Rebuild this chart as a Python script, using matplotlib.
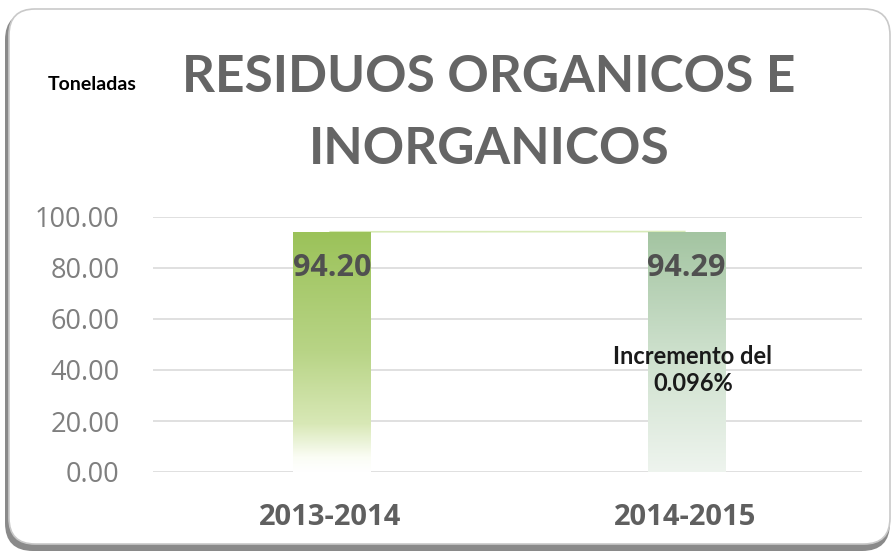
import numpy as np
import matplotlib
matplotlib.use("Agg")
import matplotlib.pyplot as plt
from matplotlib.patches import FancyBboxPatch
from matplotlib.colors import LinearSegmentedColormap

# ---- data ----
categories = ["2013-2014", "2014-2015"]
values = [94.20, 94.29]
value_labels = ["94.20", "94.29"]
yticks = [0, 20, 40, 60, 80, 100]
title_lines = ["RESIDUOS ORGANICOS E", "INORGANICOS"]
unit_label = "Toneladas"
note = "Incremento del\n0.096%"

W, H = 893, 553
fig = plt.figure(figsize=(W / 100, H / 100), dpi=100)
fig.patch.set_facecolor("white")

# background card drawn in pixel coordinates
bg = fig.add_axes([0, 0, 1, 1])
bg.set_xlim(0, W)
bg.set_ylim(H, 0)
bg.axis("off")
shadow = FancyBboxPatch((5, 12), 885, 539, boxstyle="round,pad=0,rounding_size=28",
                        facecolor="#8a8a8a", edgecolor="none", zorder=0)
bg.add_patch(shadow)
card = FancyBboxPatch((9, 9), 881, 535, boxstyle="round,pad=0,rounding_size=26",
                      facecolor="white", edgecolor="#c9c9c9", linewidth=1.2, zorder=1)
bg.add_patch(card)

# titles
fig.text(489 / W, 1 - 78 / H, title_lines[0], ha="center", va="center",
         fontsize=37, fontweight="bold", family="Lato", color="#656565")
fig.text(489 / W, 1 - 150 / H, title_lines[1], ha="center", va="center",
         fontsize=37, fontweight="bold", family="Lato", color="#656565")
fig.text(92 / W, 1 - 84 / H, unit_label, ha="center", va="center",
         fontsize=14, fontweight="bold", family="Lato", color="#000000")

# main axes
ax = fig.add_axes([153 / W, 1 - 472 / H, 709 / W, 255 / H])
ax.patch.set_alpha(0)
x = np.arange(len(categories))
ax.set_xlim(-0.5, len(categories) - 0.5)
ax.set_ylim(0, 100)
for s in ax.spines.values():
    s.set_visible(False)
ax.set_yticks(yticks)
ax.set_yticklabels([f"{v:.2f}" for v in yticks], family="Open Sans",
                   fontsize=19.5, color="#7f7f7f")
ax.set_xticks(x)
ax.set_xticklabels(categories, family="Open Sans", fontsize=21,
                   fontweight="bold", color="#5f5f5f")
ax.tick_params(axis="both", length=0)
ax.tick_params(axis="y", pad=24)
ax.tick_params(axis="x", pad=22)
ax.yaxis.grid(True, color="#dadada", linewidth=1.2)
ax.set_axisbelow(True)

# faint line joining the bar tops
ax.plot(x, values, color="#d8eab8", linewidth=1.2, zorder=1)

bars = ax.bar(x + 0.005, values, width=0.22, facecolor="none", edgecolor="none", zorder=2)

cmaps = [
    LinearSegmentedColormap.from_list("g1", [(0, "#ffffff"), (0.06, "#fbfdf5"),
                                             (0.2, "#d8e8b6"), (0.5, "#b8d486"),
                                             (1, "#9bc259")]),
    LinearSegmentedColormap.from_list("g2", [(0, "#eef4ee"), (0.5, "#cde0cc"),
                                             (1, "#a3c4a1")]),
]
grad = np.linspace(0, 1, 256).reshape(-1, 1)
for b, cm in zip(bars, cmaps):
    x0, w, h = b.get_x(), b.get_width(), b.get_height()
    im = ax.imshow(grad, cmap=cm, origin="lower", aspect="auto",
                   extent=[x0, x0 + w, 0, h], zorder=2)
    im.set_clip_path(b)

ax.set_xlim(-0.5, len(categories) - 0.5)
ax.set_ylim(0, 100)

for xi, v, lab in zip(x, values, value_labels):
    ax.annotate(lab, (xi + 0.005, v), xytext=(0, -36), textcoords="offset pixels",
                ha="center", va="center", family="Open Sans", fontsize=22,
                fontweight="bold", color="#505050", zorder=3)

ax.text(1.023, 40, note, ha="center", va="center", family="Lato",
        fontsize=17, fontweight="bold", color="#1a1a1a", linespacing=1.25, zorder=3)

fig.savefig("out.png", dpi=100, facecolor="white")
